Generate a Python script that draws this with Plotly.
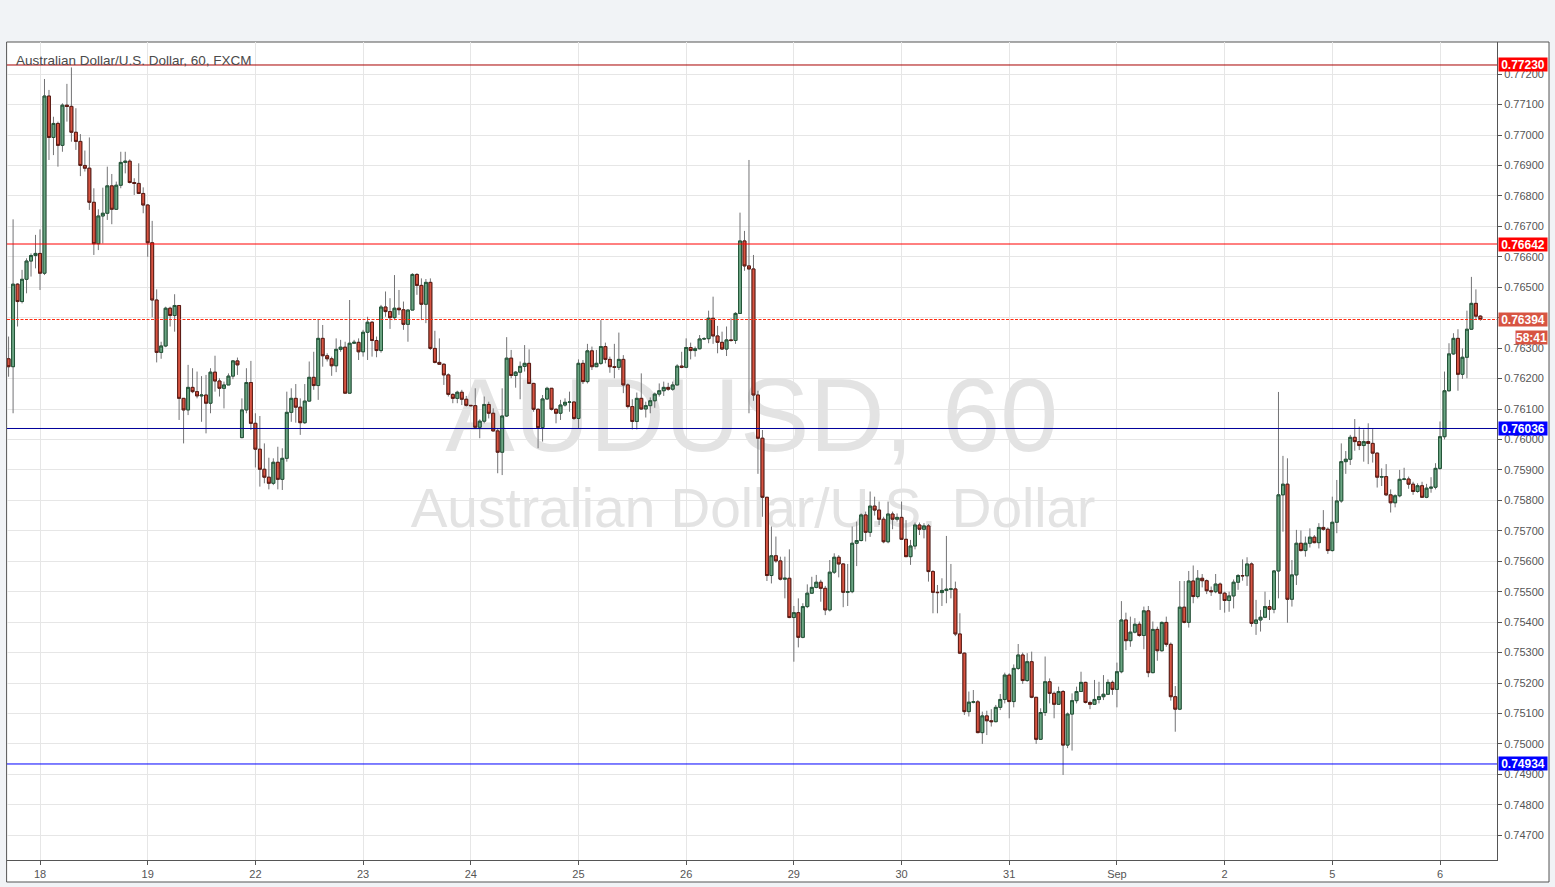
import plotly.graph_objects as go

# ---------------- data (AUD/USD, 60 min, FXCM) ----------------
day_labels = ['18', '19', '22', '23', '24', '25', '26', '29', '30', '31', 'Sep', '2', '5', '6']
bar_hours = list(range(-7, 322))          # trading-hour index, 0 = 18 Aug 00:00
first_open = 0.76265
gap_opens = {45: 0.76006}                 # Sunday re-open after the weekend

closes = [
    0.76239, 0.76510, 0.76453, 0.76526, 0.76586, 0.76604, 0.76611,
    0.76546, 0.77128, 0.76992, 0.77038, 0.76966, 0.77098, 0.77094, 0.77009, 0.76979, 0.76900, 0.76891, 0.76779,
    0.76643, 0.76734, 0.76743, 0.76833, 0.76756, 0.76835, 0.76910, 0.76914, 0.76844, 0.76841, 0.76808, 0.76770,
    0.76646, 0.76458, 0.76286, 0.76307, 0.76431, 0.76407, 0.76440, 0.76135, 0.76097, 0.76171, 0.76157, 0.76143,
    0.76146, 0.76119, 0.76221, 0.76192, 0.76168, 0.76179, 0.76208, 0.76258, 0.76245, 0.76097, 0.76187, 0.76053,
    0.75968, 0.75902, 0.75876, 0.75856, 0.75925, 0.75869, 0.75938, 0.76089, 0.76135, 0.76106, 0.76055, 0.76126,
    0.76204, 0.76177, 0.76332, 0.76275, 0.76265, 0.76242, 0.76296, 0.76303, 0.76152, 0.76316, 0.76319, 0.76288,
    0.76352, 0.76385, 0.76325, 0.76292, 0.76435, 0.76420, 0.76400, 0.76431, 0.76426, 0.76378, 0.76425, 0.76542,
    0.76506, 0.76444, 0.76516, 0.76299, 0.76253, 0.76247, 0.76212, 0.76148, 0.76135, 0.76155, 0.76132, 0.76112,
    0.76111, 0.76040, 0.76060, 0.76115, 0.76086, 0.76028, 0.75958, 0.76077, 0.76267, 0.76210, 0.76221, 0.76240,
    0.76250, 0.76184, 0.76099, 0.76039, 0.76133, 0.76168, 0.76099, 0.76086, 0.76113, 0.76122, 0.76123, 0.76069,
    0.76250, 0.76190, 0.76291, 0.76239, 0.76250, 0.76305, 0.76263, 0.76239, 0.76237, 0.76263, 0.76179, 0.76108,
    0.76059, 0.76135, 0.76100, 0.76111, 0.76127, 0.76149, 0.76160, 0.76171, 0.76165, 0.76179, 0.76241, 0.76237,
    0.76302, 0.76292, 0.76298, 0.76330, 0.76331, 0.76398, 0.76340, 0.76319, 0.76297, 0.76327, 0.76325, 0.76414,
    0.76652, 0.76570, 0.76560, 0.76146, 0.76004, 0.75810, 0.75553, 0.75618, 0.75601, 0.75541, 0.75544, 0.75415,
    0.75431, 0.75350, 0.75451, 0.75495, 0.75514, 0.75531, 0.75511, 0.75440, 0.75564, 0.75613, 0.75591, 0.75498,
    0.75500, 0.75659, 0.75668, 0.75752, 0.75695, 0.75781, 0.75768, 0.75738, 0.75664, 0.75755, 0.75738, 0.75744,
    0.75672, 0.75615, 0.75650, 0.75719, 0.75705, 0.75716, 0.75566, 0.75498, 0.75497, 0.75504, 0.75508, 0.75509,
    0.75361, 0.75298, 0.75106, 0.75137, 0.75138, 0.75037, 0.75092, 0.75076, 0.75073, 0.75120, 0.75146, 0.75226,
    0.75139, 0.75248, 0.75292, 0.75208, 0.75270, 0.75153, 0.75015, 0.75103, 0.75204, 0.75166, 0.75130, 0.75172,
    0.74996, 0.75098, 0.75142, 0.75172, 0.75202, 0.75136, 0.75130, 0.75146, 0.75155, 0.75163, 0.75202, 0.75179,
    0.75237, 0.75407, 0.75339, 0.75367, 0.75393, 0.75356, 0.75437, 0.75234, 0.75376, 0.75306, 0.75399, 0.75327,
    0.75155, 0.75114, 0.75449, 0.75399, 0.75535, 0.75484, 0.75544, 0.75536, 0.75503, 0.75500, 0.75525, 0.75495,
    0.75471, 0.75486, 0.75531, 0.75553, 0.75552, 0.75591, 0.75396, 0.75407, 0.75416, 0.75451, 0.75442, 0.75568,
    0.75818, 0.75853, 0.75475, 0.75555, 0.75659, 0.75635, 0.75659, 0.75679, 0.75661, 0.75711, 0.75705, 0.75635,
    0.75728, 0.75798, 0.75927, 0.75935, 0.76007, 0.75993, 0.75980, 0.75993, 0.75987, 0.75955, 0.75876, 0.75878,
    0.75818, 0.75792, 0.75815, 0.75869, 0.75870, 0.75853, 0.75829, 0.75848, 0.75810, 0.75840, 0.75843, 0.75905,
    0.76009, 0.76160, 0.76281, 0.76332, 0.76214, 0.76270, 0.76362, 0.76447, 0.76405, 0.76394,
]

highs = [
    0.76338, 0.76723, 0.76513, 0.76557, 0.76595, 0.76611, 0.76672,
    0.76690, 0.77184, 0.77148, 0.77060, 0.77044, 0.77104, 0.77168, 0.77222, 0.77088, 0.77003, 0.76949, 0.76992,
    0.76825, 0.76756, 0.76827, 0.76896, 0.76872, 0.76847, 0.76945, 0.76945, 0.76920, 0.76858, 0.76907, 0.76828,
    0.76773, 0.76718, 0.76493, 0.76321, 0.76436, 0.76436, 0.76477, 0.76440, 0.76135, 0.76245, 0.76234, 0.76223,
    0.76208, 0.76212, 0.76234, 0.76275, 0.76201, 0.76190, 0.76217, 0.76261, 0.76269, 0.76135, 0.76234, 0.76258,
    0.76086, 0.76077, 0.75987, 0.75940, 0.75938, 0.75976, 0.75971, 0.76157, 0.76168, 0.76182, 0.76135, 0.76182,
    0.76256, 0.76288, 0.76395, 0.76376, 0.76283, 0.76272, 0.76332, 0.76327, 0.76321, 0.76458, 0.76327, 0.76332,
    0.76360, 0.76403, 0.76389, 0.76338, 0.76442, 0.76486, 0.76464, 0.76540, 0.76491, 0.76453, 0.76427, 0.76546,
    0.76546, 0.76529, 0.76527, 0.76529, 0.76357, 0.76332, 0.76250, 0.76217, 0.76151, 0.76160, 0.76163, 0.76143,
    0.76113, 0.76168, 0.76066, 0.76141, 0.76124, 0.76102, 0.76037, 0.76168, 0.76336, 0.76294, 0.76225, 0.76256,
    0.76310, 0.76296, 0.76186, 0.76102, 0.76146, 0.76173, 0.76168, 0.76102, 0.76130, 0.76135, 0.76157, 0.76124,
    0.76263, 0.76261, 0.76314, 0.76305, 0.76294, 0.76392, 0.76318, 0.76272, 0.76314, 0.76351, 0.76277, 0.76184,
    0.76132, 0.76154, 0.76217, 0.76124, 0.76138, 0.76154, 0.76184, 0.76190, 0.76186, 0.76190, 0.76247, 0.76288,
    0.76332, 0.76318, 0.76305, 0.76343, 0.76336, 0.76423, 0.76469, 0.76373, 0.76354, 0.76371, 0.76398, 0.76418,
    0.76745, 0.76685, 0.76918, 0.76606, 0.76160, 0.76031, 0.75810, 0.75714, 0.75681, 0.75615, 0.75615, 0.75639,
    0.75453, 0.75478, 0.75462, 0.75524, 0.75549, 0.75555, 0.75539, 0.75519, 0.75604, 0.75626, 0.75620, 0.75593,
    0.75591, 0.75714, 0.75730, 0.75757, 0.75763, 0.75829, 0.75812, 0.75796, 0.75746, 0.75796, 0.75763, 0.75757,
    0.75796, 0.75735, 0.75670, 0.75727, 0.75727, 0.75725, 0.75722, 0.75571, 0.75522, 0.75544, 0.75683, 0.75591,
    0.75533, 0.75429, 0.75300, 0.75172, 0.75177, 0.75144, 0.75106, 0.75109, 0.75114, 0.75128, 0.75164, 0.75234,
    0.75232, 0.75261, 0.75328, 0.75300, 0.75298, 0.75303, 0.75154, 0.75117, 0.75287, 0.75215, 0.75172, 0.75188,
    0.75177, 0.75103, 0.75166, 0.75188, 0.75237, 0.75204, 0.75142, 0.75210, 0.75204, 0.75226, 0.75212, 0.75208,
    0.75267, 0.75469, 0.75431, 0.75418, 0.75413, 0.75402, 0.75451, 0.75453, 0.75402, 0.75385, 0.75402, 0.75418,
    0.75333, 0.75190, 0.75535, 0.75535, 0.75568, 0.75586, 0.75571, 0.75558, 0.75540, 0.75517, 0.75558, 0.75530,
    0.75500, 0.75500, 0.75540, 0.75558, 0.75606, 0.75613, 0.75596, 0.75473, 0.75440, 0.75500, 0.75473, 0.75571,
    0.76156, 0.75946, 0.75938, 0.75604, 0.75703, 0.75701, 0.75681, 0.75708, 0.75686, 0.75725, 0.75768, 0.75711,
    0.75812, 0.75867, 0.75987, 0.75962, 0.76015, 0.76067, 0.76042, 0.76033, 0.76053, 0.76034, 0.75957, 0.75905,
    0.75919, 0.75836, 0.75820, 0.75900, 0.75907, 0.75878, 0.75861, 0.75856, 0.75861, 0.75854, 0.75876, 0.75922,
    0.76059, 0.76223, 0.76316, 0.76349, 0.76362, 0.76299, 0.76423, 0.76534, 0.76493, 0.76408,
]

lows = [
    0.76206, 0.76086, 0.76371, 0.76447, 0.76480, 0.76535, 0.76562,
    0.76491, 0.76540, 0.76918, 0.76934, 0.76896, 0.76945, 0.77044, 0.76978, 0.76951, 0.76865, 0.76880, 0.76754,
    0.76606, 0.76622, 0.76644, 0.76721, 0.76707, 0.76754, 0.76825, 0.76874, 0.76841, 0.76803, 0.76806, 0.76743,
    0.76600, 0.76401, 0.76253, 0.76265, 0.76303, 0.76371, 0.76354, 0.76064, 0.75987, 0.76080, 0.76152, 0.76135,
    0.76058, 0.76020, 0.76086, 0.76157, 0.76141, 0.76102, 0.76179, 0.76198, 0.76212, 0.76004, 0.76086, 0.76031,
    0.75908, 0.75845, 0.75856, 0.75836, 0.75850, 0.75836, 0.75834, 0.75927, 0.76058, 0.76055, 0.76015, 0.76051,
    0.76124, 0.76163, 0.76130, 0.76239, 0.76256, 0.76209, 0.76221, 0.76288, 0.76152, 0.76152, 0.76314, 0.76261,
    0.76272, 0.76261, 0.76272, 0.76270, 0.76285, 0.76403, 0.76363, 0.76392, 0.76409, 0.76360, 0.76321, 0.76425,
    0.76475, 0.76392, 0.76382, 0.76294, 0.76250, 0.76246, 0.76179, 0.76141, 0.76119, 0.76119, 0.76113, 0.76108,
    0.76108, 0.76037, 0.76004, 0.76053, 0.76069, 0.76026, 0.75889, 0.75883, 0.76074, 0.76201, 0.76170, 0.76132,
    0.76223, 0.76182, 0.76091, 0.75971, 0.75993, 0.76130, 0.76095, 0.76053, 0.76064, 0.76108, 0.76091, 0.76064,
    0.76037, 0.76182, 0.76184, 0.76228, 0.76239, 0.76245, 0.76250, 0.76219, 0.76201, 0.76228, 0.76152, 0.76102,
    0.76033, 0.76033, 0.76097, 0.76072, 0.76086, 0.76104, 0.76141, 0.76143, 0.76160, 0.76160, 0.76178, 0.76234,
    0.76234, 0.76263, 0.76272, 0.76296, 0.76327, 0.76316, 0.76314, 0.76283, 0.76294, 0.76274, 0.76321, 0.76314,
    0.76414, 0.76554, 0.76086, 0.76127, 0.75887, 0.75746, 0.75535, 0.75527, 0.75595, 0.75537, 0.75478, 0.75413,
    0.75270, 0.75317, 0.75347, 0.75446, 0.75493, 0.75511, 0.75467, 0.75423, 0.75435, 0.75558, 0.75547, 0.75449,
    0.75453, 0.75495, 0.75584, 0.75665, 0.75665, 0.75680, 0.75750, 0.75719, 0.75659, 0.75659, 0.75705, 0.75730,
    0.75670, 0.75615, 0.75588, 0.75639, 0.75686, 0.75675, 0.75533, 0.75429, 0.75429, 0.75453, 0.75462, 0.75478,
    0.75354, 0.75295, 0.75095, 0.75090, 0.75133, 0.75035, 0.75000, 0.75029, 0.75057, 0.75071, 0.75111, 0.75133,
    0.75084, 0.75120, 0.75243, 0.75197, 0.75204, 0.75150, 0.75000, 0.75013, 0.75092, 0.75133, 0.75084, 0.75128,
    0.74898, 0.74986, 0.74978, 0.75133, 0.75172, 0.75133, 0.75114, 0.75128, 0.75133, 0.75144, 0.75161, 0.75161,
    0.75120, 0.75232, 0.75308, 0.75319, 0.75363, 0.75352, 0.75311, 0.75219, 0.75232, 0.75273, 0.75303, 0.75319,
    0.75142, 0.75040, 0.75111, 0.75396, 0.75382, 0.75462, 0.75478, 0.75514, 0.75492, 0.75486, 0.75495, 0.75440,
    0.75431, 0.75434, 0.75445, 0.75506, 0.75536, 0.75519, 0.75385, 0.75358, 0.75369, 0.75413, 0.75407, 0.75429,
    0.75478, 0.75697, 0.75398, 0.75451, 0.75522, 0.75632, 0.75615, 0.75645, 0.75659, 0.75642, 0.75700, 0.75624,
    0.75632, 0.75692, 0.75792, 0.75887, 0.75916, 0.75963, 0.75965, 0.75927, 0.75919, 0.75924, 0.75842, 0.75847,
    0.75814, 0.75760, 0.75777, 0.75810, 0.75866, 0.75838, 0.75818, 0.75825, 0.75809, 0.75807, 0.75825, 0.75836,
    0.75900, 0.76000, 0.76157, 0.76278, 0.76160, 0.76199, 0.76201, 0.76360, 0.76393, 0.76390,
]

level_prices = [0.77230, 0.76642, 0.76036, 0.74934]
last_price = 0.76394
countdown = '58:41'
symbol_title = 'Australian Dollar/U.S. Dollar, 60, FXCM'
watermark_lines = ['AUDUSD, 60', 'Australian Dollar/U.S. Dollar']
y_tick_prices = [round(0.747 + 0.001 * i, 3) for i in range(26)]

assert len(closes) == len(highs) == len(lows) == len(bar_hours), (len(closes), len(highs), len(lows))

# opens: each bar opens at the previous close (except the weekend re-open)
opens = [first_open] + closes[:-1]
for hr, op in gap_opens.items():
    opens[bar_hours.index(hr)] = op
highs = [max(h, o, c) for h, o, c in zip(highs, opens, closes)]
lows = [min(l, o, c) for l, o, c in zip(lows, opens, closes)]
body_top = [max(o, c) for o, c in zip(opens, closes)]
body_bot = [min(o, c) for o, c in zip(opens, closes)]

# ---------------- styling ----------------
UP_FILL, UP_LINE = '#6ba583', '#225437'
DN_FILL, DN_LINE = '#d75442', '#5b1a13'
WICK = '#737375'
GRID = '#e6e6e6'
AXIS = '#555555'
FONT = 'Liberation Sans, Arial, sans-serif'

W, H = 1555, 887
ML, MR, MT, MB = 7, 58, 42, 27
PW, PH = W - ML - MR, H - MT - MB
x_range = [-7.354, 324.70]
y_range = [0.746186, 0.773055]

day_ticks = [24 * i for i in range(len(day_labels))]

fig = go.Figure()

# watermark (base subplot, below the candles)
fig.add_trace(go.Scatter(
    x=[158.6, 158.9], y=[0.76047, 0.75757], mode='text',
    text=watermark_lines, textposition='middle center',
    textfont=dict(size=[104, 55], color='#e3e3e3', family=FONT),
    hoverinfo='skip', showlegend=False))

# wicks
fig.add_trace(go.Candlestick(
    x=bar_hours, open=opens, high=highs, low=lows, close=closes,
    increasing=dict(line=dict(color=WICK, width=1), fillcolor=WICK),
    decreasing=dict(line=dict(color=WICK, width=1), fillcolor=WICK),
    whiskerwidth=0, hoverinfo='skip', showlegend=False,
    xaxis='x2', yaxis='y2'))
# bodies
fig.add_trace(go.Candlestick(
    x=bar_hours, open=opens, high=body_top, low=body_bot, close=closes,
    increasing=dict(line=dict(color=UP_LINE, width=1), fillcolor=UP_FILL),
    decreasing=dict(line=dict(color=DN_LINE, width=1), fillcolor=DN_FILL),
    whiskerwidth=0, hoverinfo='skip', showlegend=False,
    xaxis='x2', yaxis='y2'))

shapes = []
# chart panel
shapes.append(dict(type='rect', xref='paper', yref='paper', layer='below',
                   x0=-0.4 / PW, x1=(1549 - ML) / PW, y0=(H - MB - 882) / PH, y1=1.0,
                   fillcolor='white', line=dict(color=AXIS, width=1)))
level_line_colors = ['#a80000', '#ff0000', '#00009a', '#0000ff']
for p, col in zip(level_prices, level_line_colors):
    shapes.append(dict(type='line', xref='paper', yref='y', x0=0, x1=1, y0=p, y1=p,
                       line=dict(color=col, width=1)))
shapes.append(dict(type='line', xref='paper', yref='y', x0=0, x1=1, y0=last_price, y1=last_price,
                   line=dict(color='#ff2a10', width=1, dash='3px,1.5px')))

annotations = []
level_label_colors = ['#ff0000', '#ff0000', '#0000ff', '#0000ff']
for p, col in zip(level_prices, level_label_colors):
    annotations.append(dict(xref='paper', yref='y', x=1.0, y=p, xanchor='left', yanchor='middle',
                            xshift=1, text=f'<b>{p:.5f}</b>', showarrow=False,
                            font=dict(color='white', size=12, family=FONT),
                            bgcolor=col, width=48, height=13, borderpad=0))
annotations.append(dict(xref='paper', yref='y', x=1.0, y=last_price, xanchor='left', yanchor='middle',
                        xshift=1, text=f'<b>{last_price:.5f}</b>', showarrow=False,
                        font=dict(color='white', size=12, family=FONT),
                        bgcolor=DN_FILL, width=48, height=13, borderpad=0))
annotations.append(dict(xref='paper', yref='y', x=(1548 - ML) / PW, y=last_price, xanchor='right',
                        yanchor='middle', yshift=-17.5, text=f'<b>{countdown}</b>', showarrow=False,
                        font=dict(color='white', size=12, family=FONT),
                        bgcolor=DN_FILL, width=31, height=13, borderpad=0))
annotations.append(dict(xref='paper', yref='paper', x=(14 - ML) / PW, y=(H - MB - 60) / PH,
                        xanchor='left', yanchor='middle', text=symbol_title, showarrow=False,
                        font=dict(color='#4a4a4a', size=13.5, family=FONT)))

fig.update_layout(
    width=W, height=H,
    margin=dict(l=ML, r=MR, t=MT, b=MB, pad=0),
    paper_bgcolor='#f1f3f6', plot_bgcolor='rgba(0,0,0,0)',
    showlegend=False, hovermode=False,
    boxgap=0.35, boxgroupgap=0.0, boxmode='overlay',
    xaxis=dict(range=x_range, tickmode='array', tickvals=day_ticks, ticktext=day_labels,
               showgrid=True, gridcolor=GRID, gridwidth=1, zeroline=False,
               showline=True, linecolor=AXIS, linewidth=1,
               ticks='outside', ticklen=4, tickcolor=AXIS,
               tickfont=dict(size=11, color=AXIS, family='Liberation Sans Narrow, Arial Narrow, ' + FONT),
               fixedrange=True, rangeslider=dict(visible=False)),
    yaxis=dict(range=y_range, side='right', tickmode='array', tickvals=y_tick_prices,
               tickformat='.5f', showgrid=True, gridcolor=GRID, gridwidth=1, zeroline=False,
               showline=True, linecolor=AXIS, linewidth=1,
               ticks='outside', ticklen=4, tickcolor=AXIS,
               tickfont=dict(size=11, color=AXIS, family=FONT), fixedrange=True),
    xaxis2=dict(overlaying='x', range=x_range, visible=False, showgrid=False, zeroline=False,
                rangeslider=dict(visible=False), fixedrange=True),
    yaxis2=dict(overlaying='y', range=y_range, visible=False, showgrid=False, zeroline=False,
                fixedrange=True),
    shapes=shapes, annotations=annotations,
)

fig.write_html('out.html', config={'displayModeBar': False},
               post_script="document.body.style.margin='0';document.body.style.padding='0';"
                           "document.body.style.overflow='hidden';")
